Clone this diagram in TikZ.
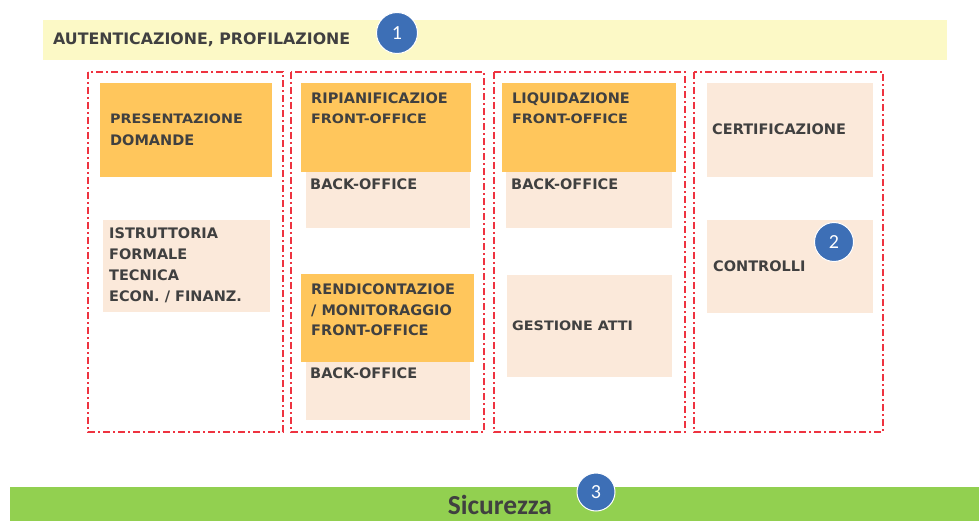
\documentclass[tikz,border=0pt]{standalone}
\usepackage{fontspec}
\setmainfont{DejaVu Sans}
\newfontfamily\widefont[FakeStretch=1.1]{DejaVu Sans}
\newfontfamily\numfont{Carlito}
\definecolor{barY}{HTML}{FCF9C6}
\definecolor{orng}{HTML}{FFC65C}
\definecolor{peach}{HTML}{FBE9DA}
\definecolor{grn}{HTML}{92D050}
\definecolor{txt}{HTML}{404040}
\definecolor{dashred}{HTML}{EE3340}
\definecolor{blu}{HTML}{3D6FB6}
\tikzset{
  colbox/.style={draw=dashred, line width=2pt, dash pattern=on 7pt off 3pt on 2pt off 3pt},
  fobox/.style={fill=orng, draw=none},
  bobox/.style={fill=peach, draw=none},
  lbl/.style={anchor=west, inner sep=0pt, text=txt, font=\fontsize{14.5}{21}\selectfont\bfseries, align=left},
  lblsm/.style={lbl, font=\widefont\fontsize{13}{21}\selectfont\bfseries},
  numc/.style={circle, fill=blu, draw=white, line width=1pt, minimum size=#1, inner sep=0pt, text=white, font=\numfont\fontsize{20}{20}\selectfont},
}
\begin{document}
\begin{tikzpicture}[x=1pt,y=-1pt]
\useasboundingbox (0,0) rectangle (979,521);
% top bar
\fill[barY] (43,20) rectangle (947,60);
\node[lbl, font=\fontsize{15.8}{18}\selectfont\bfseries] (auth) at (53,40) {AUTENTICAZIONE, PROFILAZIONE};
\node[numc=41pt] (n1) at (397,33) {1};
% columns
\draw[colbox] (88,72) rectangle (283,432);
\draw[colbox] (291,72) rectangle (484,432);
\draw[colbox] (494,72) rectangle (685,432);
\draw[colbox] (694,72) rectangle (883,432);
% column 1
\fill[fobox] (100,83) rectangle (272,177);
\node[lbl, anchor=north west, font=\fontsize{14.5}{22}\selectfont\bfseries] (pres) at (110,113.3) {{\widefont\fontsize{13}{22}\selectfont PRESENTAZIONE}\\DOMANDE};
\fill[bobox] (103,220) rectangle (270,312);
\node[lbl, anchor=north west] (istr) at (109,227.7) {ISTRUTTORIA\\FORMALE\\TECNICA\\ECON. / FINANZ.};
% column 2
\fill[fobox] (301,83) rectangle (471,172);
\fill[bobox] (306,172) rectangle (470,228);
\node[lbl, anchor=north west, font=\fontsize{14.5}{20}\selectfont\bfseries] (ripi) at (311,92.7) {RIPIANIFICAZIOE\\{\widefont\fontsize{13}{20}\selectfont FRONT-OFFICE}};
\node[lbl] (bo1) at (310,184) {BACK-OFFICE};
\fill[fobox] (301,274) rectangle (474,362);
\fill[bobox] (306,362) rectangle (470,420);
\node[lbl, anchor=north west, font=\fontsize{14.5}{20.5}\selectfont\bfseries] (rend) at (311,283.7) {RENDICONTAZIOE\\/ MONITORAGGIO\\FRONT-OFFICE};
\node[lbl] (bo2) at (310,373) {BACK-OFFICE};
% column 3
\fill[fobox] (502,83) rectangle (676,172);
\fill[bobox] (506,172) rectangle (672,228);
\node[lbl, anchor=north west, font=\fontsize{14.5}{20}\selectfont\bfseries] (liq) at (512,92.7) {LIQUIDAZIONE\\{\widefont\fontsize{13}{20}\selectfont FRONT-OFFICE}};
\node[lbl] (bo3) at (511,184) {BACK-OFFICE};
\fill[bobox] (507,275) rectangle (672,377);
\node[lblsm] (gest) at (512,326) {GESTIONE ATTI};
% column 4
\fill[bobox] (707,83) rectangle (873,177);
\node[lbl] (cert) at (712,129) {CERTIFICAZIONE};
\fill[bobox] (707,220) rectangle (873,313);
\node[lbl] (contr) at (713,266) {CONTROLLI};
\node[numc=39pt] (n2) at (834,242) {2};
% bottom bar
\fill[grn] (10,487) rectangle (979,521);
\node[text=txt, inner sep=0pt, font=\numfont\fontsize{27.5}{27.5}\selectfont\bfseries] (sic) at (500,505) {Sicurezza};
\node[numc=38pt] (n3) at (596,492) {3};
\end{tikzpicture}
\end{document}
